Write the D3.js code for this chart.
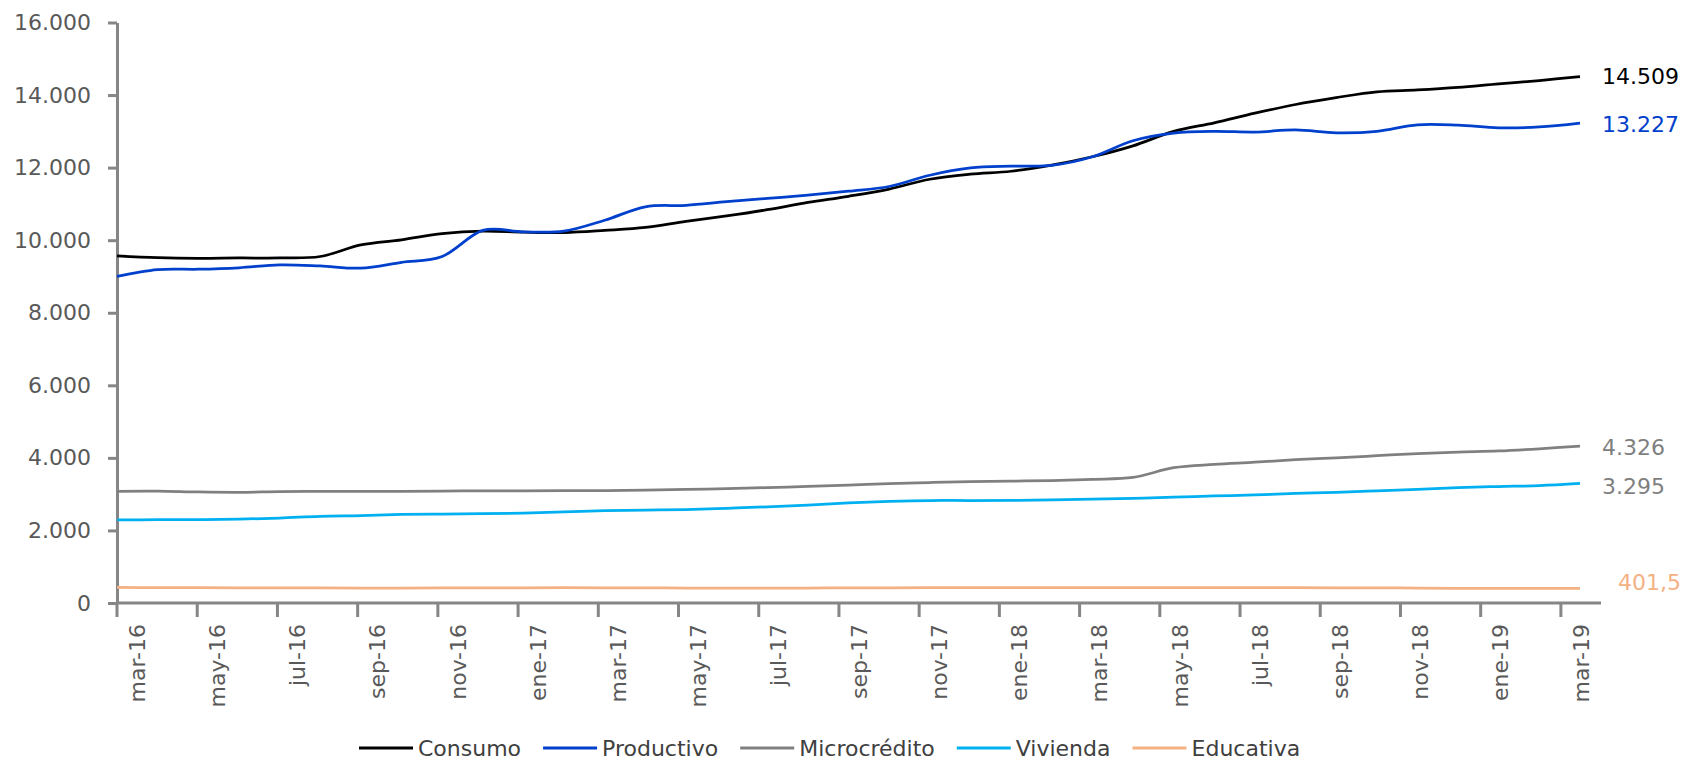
<!DOCTYPE html>
<html>
<head>
<meta charset="utf-8">
<script src="https://cdn.jsdelivr.net/npm/d3@7"></script>
<style>
  body { margin: 0; background: #fff; }
  svg { display: block; font-family: "DejaVu Sans", Verdana, sans-serif; }
</style>
</head>
<body>
<div class="chart-wrapper"></div>
<script>
// months shown on the x axis (mar-16 .. mar-19)
const months = [
  'mar-16','abr-16','may-16','jun-16','jul-16','ago-16','sep-16','oct-16','nov-16','dic-16',
  'ene-17','feb-17','mar-17','abr-17','may-17','jun-17','jul-17','ago-17','sep-17','oct-17','nov-17','dic-17',
  'ene-18','feb-18','mar-18','abr-18','may-18','jun-18','jul-18','ago-18','sep-18','oct-18','nov-18','dic-18',
  'ene-19','feb-19','mar-19'
];

const consumo = [9570, 9520, 9500, 9510, 9510, 9550, 9870, 10010, 10180, 10250,
  10220, 10210, 10270, 10350, 10520, 10670, 10840, 11040, 11210, 11410, 11680, 11820,
  11900, 12070, 12300, 12600, 13000, 13235, 13500, 13740, 13930, 14090, 14140, 14210,
  14310, 14400, 14509];

const productivo = [9000, 9190, 9200, 9240, 9320, 9290, 9230, 9390, 9550, 10270,
  10230, 10250, 10550, 10920, 10960, 11060, 11150, 11240, 11350, 11480, 11790, 11990,
  12040, 12060, 12300, 12740, 12950, 13000, 12980, 13040, 12960, 13000, 13180, 13170,
  13095, 13120, 13227];

const microcredito = [3080, 3085, 3060, 3050, 3070, 3075, 3080, 3080, 3085, 3090,
  3090, 3095, 3100, 3110, 3130, 3150, 3180, 3215, 3250, 3290, 3320, 3345,
  3360, 3375, 3410, 3460, 3730, 3820, 3880, 3950, 4000, 4060, 4120, 4160,
  4190, 4250, 4326];

const vivienda = [2290, 2295, 2300, 2310, 2340, 2390, 2410, 2440, 2450, 2460,
  2480, 2510, 2545, 2560, 2575, 2610, 2650, 2700, 2760, 2800, 2825, 2825,
  2830, 2840, 2860, 2885, 2915, 2950, 2980, 3020, 3050, 3090, 3130, 3180,
  3210, 3235, 3295];

const educativa = [428, 426, 425, 420, 418, 415, 412, 413, 415, 418,
  420, 422, 420, 418, 412, 410, 408, 412, 418, 420, 422, 423,
  425, 426, 425, 424, 424, 423, 422, 421, 420, 418, 410, 405,
  403, 402, 401.5];

const seriesNames = ['Consumo', 'Productivo', 'Microcrédito', 'Vivienda', 'Educativa'];
const seriesValues = [consumo, productivo, microcredito, vivienda, educativa];
const seriesColors = ['#000000', '#0040cc', '#808080', '#00b0f0', '#f4b183'];
const labelColors = ['#000000', '#0040cc', '#7f7f7f', '#7f7f7f', '#f4b183'];

const yTicks = [0, 2000, 4000, 6000, 8000, 10000, 12000, 14000, 16000];

const width = 1681;
const height = 762;
const axisColor = '#868686';
const textColor = '#595959';

const locale = d3.formatLocale({ decimal: ',', thousands: '.', grouping: [3], currency: ['', ''] });
const fmtInt = locale.format(',.0f');
const fmtDec = locale.format(',.1f');

let canvas = d3.select('.chart-wrapper').append('svg')
    .attr('width', width)
    .attr('height', height);

let y = d3.scaleLinear()
    .domain([0, 16000])
    .range([603, 22.5]);

// category bands for the axis, points for the lines
let xBand = d3.scaleBand()
    .domain(months)
    .range([117, 1601]);

let xPoint = d3.scalePoint()
    .domain(months)
    .range([117, 1580]);

// y axis
let yAxis = canvas.append('g')
    .attr('transform', 'translate(117,0)')
    .call(d3.axisLeft(y).tickValues(yTicks).tickSize(9).tickSizeOuter(0).tickPadding(17).tickFormat(fmtInt));
yAxis.select('.domain').attr('stroke', axisColor).attr('stroke-width', 3);
yAxis.selectAll('.tick line').attr('stroke', axisColor).attr('stroke-width', 3);
yAxis.selectAll('.tick text')
    .attr('fill', textColor)
    .style('font-size', '22px')
    .style('font-family', '"DejaVu Sans", Verdana, sans-serif');

// x axis
let xAxis = canvas.append('g').attr('class', 'x-axis');
xAxis.append('line')
    .attr('x1', xBand.range()[0])
    .attr('x2', xBand.range()[1])
    .attr('y1', y(0))
    .attr('y2', y(0))
    .attr('stroke', axisColor)
    .attr('stroke-width', 3);

let labelMonths = months.filter((m, i) => i % 2 === 0);

xAxis.selectAll('.x-tick')
    .data(labelMonths)
    .enter()
    .append('line')
    .attr('class', 'x-tick')
    .attr('x1', (m) => xBand(m))
    .attr('x2', (m) => xBand(m))
    .attr('y1', y(0))
    .attr('y2', y(0) + 14)
    .attr('stroke', axisColor)
    .attr('stroke-width', 3);

xAxis.selectAll('.x-label')
    .data(labelMonths)
    .enter()
    .append('text')
    .attr('class', 'x-label')
    .attr('transform', (m) => `translate(${xBand(m) + xBand.bandwidth() / 2}, 624) rotate(-90)`)
    .attr('text-anchor', 'end')
    .attr('dy', '0.35em')
    .attr('fill', textColor)
    .style('font-size', '22px')
    .text((m) => m);

// lines
let line = d3.line()
    .x((d, i) => xPoint(months[i]))
    .y((d) => y(d))
    .curve(d3.curveCatmullRom.alpha(0));

let drawOrder = [4, 3, 2, 0, 1];
canvas.append('g')
    .attr('class', 'lines')
    .selectAll('path')
    .data(drawOrder)
    .enter()
    .append('path')
    .attr('d', (k) => line(seriesValues[k]))
    .attr('fill', 'none')
    .attr('stroke', (k) => seriesColors[k])
    .attr('stroke-width', 2.75)
    .attr('stroke-linejoin', 'round');

// end labels
let labelDx = [22, 22, 22, 22, 38];
let labelDy = [0, 1, 1.5, 3, -6];
canvas.append('g')
    .selectAll('text')
    .data(seriesValues)
    .enter()
    .append('text')
    .attr('x', (vals, k) => xPoint(months[months.length - 1]) + labelDx[k])
    .attr('y', (vals, k) => y(vals[vals.length - 1]) + labelDy[k])
    .attr('dy', '0.35em')
    .attr('fill', (vals, k) => labelColors[k])
    .style('font-size', '22px')
    .text((vals) => {
        let v = vals[vals.length - 1];
        return Number.isInteger(v) ? fmtInt(v) : fmtDec(v);
    });

// legend
let legend = canvas.append('g').attr('class', 'legend');
let legendX = 359;
const legendY = 748;
seriesNames.forEach((name, k) => {
    legend.append('line')
        .attr('x1', legendX)
        .attr('x2', legendX + 54)
        .attr('y1', legendY)
        .attr('y2', legendY)
        .attr('stroke', seriesColors[k])
        .attr('stroke-width', 3);
    let t = legend.append('text')
        .attr('x', legendX + 59)
        .attr('y', legendY)
        .attr('dy', '0.35em')
        .attr('fill', '#404040')
        .style('font-size', '22px')
        .text(name);
    legendX += 59 + t.node().getComputedTextLength() + 22;
});
</script>
</body>
</html>
